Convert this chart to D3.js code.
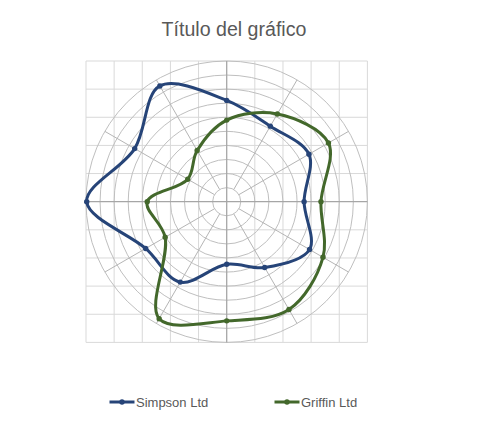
<!DOCTYPE html>
<html>
<head>
<meta charset="utf-8">
<script src="https://cdn.jsdelivr.net/npm/d3@7"></script>
<style>
  body { margin: 0; background: #fff; }
  svg { display: block; font-family: "Liberation Sans", Arial, sans-serif; }
</style>
</head>
<body>
<svg id="chart" width="478" height="424"></svg>
<script>
// angles in degrees (counter-clockwise from the right), radii on a 0..10 scale
const angles = [0, 30, 60, 90, 120, 150, 180, 210, 240, 270, 300, 330];
const simpson = [5.5, 6.75, 6.2, 7.2, 9.5, 7.55, 9.95, 6.65, 6.6, 4.45, 5.4, 6.8];
const griffin = [6.7, 8.35, 7.2, 5.8, 4.2, 3.2, 5.65, 5.05, 9.6, 8.47, 8.85, 7.9];
const seriesNames = ["Simpson Ltd", "Griffin Ltd"];
const rings = [1, 2, 3, 4, 5, 6, 7, 8, 9, 10];
const gridTicks = [-10, -8, -6, -4, -2, 0, 2, 4, 6, 8, 10];
const spokeAngles = [30, 60, 120, 150, 210, 240, 300, 330];

const svg = d3.select("#chart");
const colors = { "Simpson Ltd": "#264478", "Griffin Ltd": "#43682b" };

const x = d3.scaleLinear().domain([-10, 10]).range([86, 367.4]);
const y = d3.scaleLinear().domain([-10, 10]).range([342.4, 61]);
const unit = x(1) - x(0);

const toXY = (a, r) => [r * Math.cos(a * Math.PI / 180), r * Math.sin(a * Math.PI / 180)];

svg.append("text")
  .attr("x", 234).attr("y", 36)
  .attr("text-anchor", "middle")
  .attr("font-size", 19.6)
  .attr("fill", "#595959")
  .text("Título del gráfico");

const g = svg.append("g");

// square gridlines
g.selectAll(".vgrid").data(gridTicks.filter(d => d !== 0)).enter().append("line")
  .attr("x1", d => x(d)).attr("x2", d => x(d))
  .attr("y1", y(10)).attr("y2", y(-10))
  .attr("stroke", "#d9d9d9").attr("stroke-width", 1);
g.selectAll(".hgrid").data(gridTicks.filter(d => d !== 0)).enter().append("line")
  .attr("y1", d => y(d)).attr("y2", d => y(d))
  .attr("x1", x(-10)).attr("x2", x(10))
  .attr("stroke", "#d9d9d9").attr("stroke-width", 1);

// polar rings and spokes
g.selectAll(".ring").data(rings).enter().append("circle")
  .attr("cx", x(0)).attr("cy", y(0))
  .attr("r", d => d * unit)
  .attr("fill", "none")
  .attr("stroke", "#bfbfbf").attr("stroke-width", 1);

g.selectAll(".spoke").data(spokeAngles).enter().append("line")
  .attr("x1", d => x(toXY(d, 1)[0])).attr("y1", d => y(toXY(d, 1)[1]))
  .attr("x2", d => x(toXY(d, 10)[0])).attr("y2", d => y(toXY(d, 10)[1]))
  .attr("stroke", "#b5b5b5").attr("stroke-width", 1);

// axes through the centre
g.append("line").attr("x1", x(-10)).attr("x2", x(10)).attr("y1", y(0)).attr("y2", y(0))
  .attr("stroke", "#a6a6a6").attr("stroke-width", 1.3);
g.append("line").attr("x1", x(0)).attr("x2", x(0)).attr("y1", y(10)).attr("y2", y(-10))
  .attr("stroke", "#a6a6a6").attr("stroke-width", 1.3);

const line = d3.line()
  .x(d => x(d[0]))
  .y(d => y(d[1]))
  .curve(d3.curveCatmullRomClosed.alpha(0.5));

[[seriesNames[0], simpson], [seriesNames[1], griffin]].forEach(([name, vals]) => {
  const pts = angles.map((a, i) => toXY(a, vals[i]));
  g.append("path")
    .attr("d", line(pts))
    .attr("fill", "none")
    .attr("stroke", colors[name])
    .attr("stroke-width", 3)
    .attr("stroke-linejoin", "round");
  g.selectAll(null).data(pts).enter().append("circle")
    .attr("cx", d => x(d[0])).attr("cy", d => y(d[1]))
    .attr("r", 2.7)
    .attr("fill", colors[name]);
});

// legend
const legendX = [109.5, 274.5];
seriesNames.forEach((name, i) => {
  const lg = svg.append("g").attr("transform", `translate(${legendX[i]},402)`);
  lg.append("line").attr("x1", 0).attr("x2", 25).attr("y1", 0).attr("y2", 0)
    .attr("stroke", colors[name]).attr("stroke-width", 3);
  lg.append("circle").attr("cx", 12.5).attr("cy", 0).attr("r", 2.7).attr("fill", colors[name]);
  lg.append("text").attr("x", 26.5).attr("y", 4.6)
    .attr("font-size", 13).attr("fill", "#595959")
    .text(name);
});
</script>
</body>
</html>
